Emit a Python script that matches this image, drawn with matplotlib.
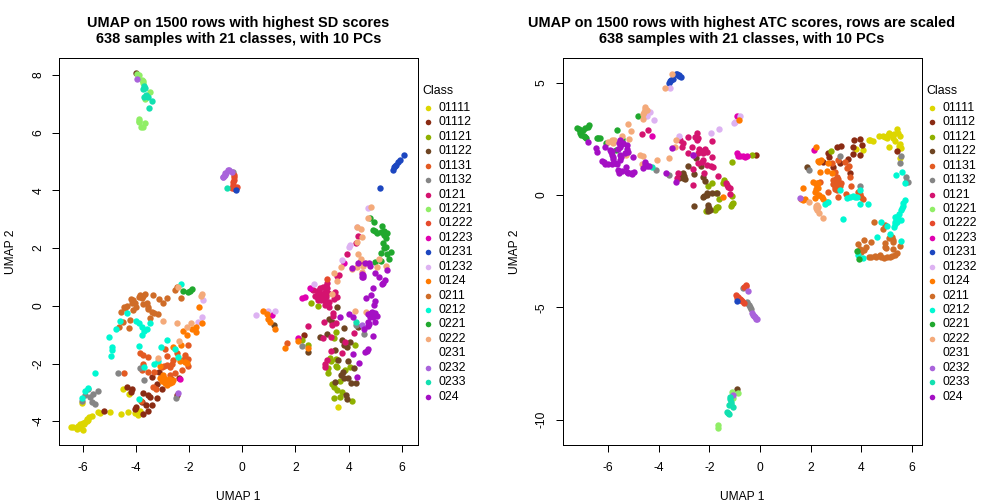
import matplotlib
matplotlib.use("Agg")
import matplotlib.pyplot as plt
from matplotlib.lines import Line2D

plt.rcParams['font.family'] = ['Liberation Sans', 'DejaVu Sans']
plt.rcParams['axes.unicode_minus'] = False

class_labels = ["01111","01112","01121","01122","01131","01132","0121","01221","01222","01223",
                "01231","01232","0124","0211","0212","0221","0222","0231","0232","0233","024"]
class_colors = ["#DDD600","#8A2B13","#8FB000","#6E4522","#E35A22","#858585","#D4136F","#90EE66","#E64A2C","#E000B0",
                "#1C46C0","#DDB2F2","#FF7A00","#CF6C28","#00F8D2","#20A82E","#F4AA7A","#FFFFFF","#A963DB","#12E0B0","#A40FC4"]

sd_01111 = [(-6.35,-4.19),(-6.23,-4.28),(-6.10,-4.19),(-5.98,-4.31),(-6.04,-4.10),(-5.91,-4.02),(-5.79,-3.96),(-5.66,-3.81),
            (-5.41,-3.67),(-5.35,-3.73),(-4.97,-3.67),(-4.54,-3.75),(-4.29,-3.69),(-4.04,-3.73),(-3.91,-3.79),(-3.85,-3.64),
            (-4.47,-2.90),(-6.04,-3.38),(-4.25,-3.06),(-6.42,-4.21),(-6.17,-4.17),(-6.0,-4.05),(-5.85,-3.92),(3.6,-3.51),
            (-6.2,-4.22),(-6.05,-4.25),(-6.1,-4.1),(-5.95,-4.1),(-5.85,-3.98),(-5.75,-3.85)]
sd_01112 = [(-4.35,-2.80),(-4.16,-2.90),(-4.20,-2.98),(-3.72,-3.01),(-3.53,-3.09),(-3.45,-3.15),(-3.22,-3.20),(-4.0,-3.52),
            (-4.04,-3.59),(-3.60,-3.44),(-3.41,-3.44),(-3.53,-3.63),(-3.72,-3.75),(-3.78,-3.32),(-3.22,-2.71),(-3.12,-2.28),
            (-3.41,-2.48),(-3.03,-2.48),(-2.66,-2.55),(-3.0,-2.90),(-5.19,-3.66),(-2.47,-3.09),(-2.38,-2.51),(2.33,-1.0)]
sd_01121 = [(2.59,0.09),(2.84,0.0),(3.53,-0.92),(3.46,-1.13),(2.23,-1.20),(2.48,-1.35),(4.25,-1.37),(3.30,-1.82),(3.32,-1.90),
            (3.53,-1.83),(3.52,-2.08),(3.57,-2.13),(3.23,-2.17),(3.23,-2.34),(4.06,-2.13),(3.67,-2.62),(3.36,-2.72),(3.46,-2.80),
            (3.55,-2.93),(3.76,-3.0),(3.46,-3.21),(3.67,-3.15),(4.11,-3.30),(3.85,-2.22)]
sd_01122 = [(3.57,-0.05),(3.27,-0.46),(3.36,-0.55),(3.83,-0.78),(3.20,-0.99),(2.93,-1.08),(3.76,-1.19),(4.05,-1.24),(3.83,-1.36),
            (3.93,-1.44),(3.48,-1.54),(2.48,-1.61),(3.61,-1.88),(3.96,-1.93),(4.21,-2.14),(3.80,-2.31),(3.73,-2.40),(3.82,-2.51),
            (3.48,-2.63),(3.98,-2.51),(4.09,-2.66),(4.26,-2.69),(3.90,-3.09),(3.95,-3.24),(4.36,-0.75),(1.19,-0.67),(-4.0,8.06)]
sd_01131 = [(-4.44,-2.34),(-3.85,-1.65),(-3.72,-1.71),(-3.53,-1.79),(-3.75,-2.03),(-3.78,-2.22),(-3.53,-2.28),(-3.31,-2.28),
            (-3.03,-2.11),(-2.84,-2.05),(-2.72,-2.11),(-2.89,-1.50),(-2.84,-1.74),(-2.59,-1.88),(-2.47,-1.65),(-2.03,-1.37),
            (-2.16,-1.71),(-2.03,-1.86),(-2.22,-1.88),(-2.03,-2.09),(-2.28,-2.23),(-2.53,-2.32),(-2.72,-2.40),(-3.35,-2.80),
            (-3.25,-2.90),(-3.82,-3.29),(-2.84,-2.63),(1.69,-1.30),(-2.95,-2.1),(-2.65,-2.0),(-2.15,-1.8)]
sd_01132 = [(-4.67,-2.34),(-3.85,-2.14),(-3.68,-2.56),(-5.79,-2.90),(-5.91,-3.09),(-5.60,-3.06),(-5.41,-2.97),(-5.73,-3.17),
            (-5.66,-3.32),(-5.54,-3.41),(-6.04,-3.30),(-2.49,-3.18),(4.59,-0.97),(4.29,-0.67),(2.26,-1.39),(-0.36,4.65)]
sd_0121 = [(3.20,0.78),(3.20,0.61),(2.61,0.57),(2.92,0.61),(3.05,0.66),(2.73,0.34),(2.92,0.43),(3.11,0.49),(3.23,0.43),(2.86,0.20),
           (3.05,0.26),(3.27,0.14),(3.11,0.03),(3.27,-0.05),(3.48,0.49),(3.55,0.29),(3.40,-0.24),(3.40,-0.37),(3.52,-0.61),(3.36,-0.67),
           (3.08,-0.57),(2.48,-0.70),(3.32,-1.09),(3.02,-1.13),(4.21,-0.95),(3.86,-1.24),(3.32,-1.57),(3.76,-1.64),(3.17,-1.88),
           (3.12,-2.0),(3.12,-2.11),(3.55,1.03),(3.65,1.08),(3.95,1.78),(4.26,2.17),(4.34,2.42),(4.42,1.53),
           (2.65,0.55),(2.8,0.5),(3.0,0.35),(2.95,0.2),(3.15,0.3),(3.1,0.15),(2.8,0.3),(3.5,0.35),(3.45,0.25),(3.15,0.7)]
sd_01221 = [(-3.97,8.04),(-3.78,7.83),(-3.72,7.73),(-3.45,7.40),(-3.65,7.18),(-3.87,6.46),(-3.90,6.38),(-3.81,6.21),(-3.66,6.33),
            (-3.9,6.42),(-3.75,6.2),(-3.9,8.0),(-3.75,7.8)]
sd_01222 = [(-0.30,4.53),(-0.30,4.36),(-0.34,4.19),(-0.21,4.13),(-0.40,4.07),(-0.28,4.04),(3.2,0.92),(-0.32,4.45),(-0.33,4.28),(-0.32,4.1),(-0.25,4.08)]
sd_01223 = [(1.13,-0.33),(2.23,0.26),(2.36,0.32),(3.83,1.47),(2.11,-1.13),(-2.34,-2.55),(2.54,0.60)]
sd_01231 = [(5.17,4.08),(5.66,4.71),(5.77,4.88),(5.92,5.05),(6.07,5.22),(5.72,4.80),(-0.25,4.0),(5.75,4.85),(5.85,5.0)]
sd_01232 = [(0.50,-0.31),(0.98,-0.18),(1.23,-0.17),(2.69,0.77),(3.75,1.60),(4.07,2.11),(4.02,2.03),(4.30,2.72),(4.74,3.38),
            (-1.47,0.20),(-1.50,-0.40),(-1.68,-0.57)]
sd_0124 = [(0.79,-0.19),(0.95,-0.30),(0.98,-0.47),(1.04,-0.57),(1.22,-0.82),(1.60,-1.47),(2.48,-1.47),(2.11,-1.21),(-1.62,-0.05),
           (-1.50,-0.58),(-1.72,-0.72),(-1.87,-0.82),(-2.22,-0.87),(-2.07,-1.01),(-1.72,-0.90),(-2.29,-1.36),(-2.59,-1.44),(-3.10,-2.09),
           (-2.97,-2.40),(-2.91,-2.69),(-2.72,-2.69),(-2.59,-2.57),(-3.10,-2.51),(-2.84,-2.75),(-2.16,-1.94),(-2.34,-1.90),(-2.06,-1.99),
           (-2.85,-2.6),(-2.95,-2.5),(-2.75,-2.55),(-2.65,-2.65),(-3.0,-2.6)]
sd_0211 = [(-4.54,-0.20),(-4.41,-0.09),(-4.32,-0.01),(-4.10,0.20),(-4.04,0.09),(-3.85,0.37),(-3.65,0.41),(-3.78,0.26),(-3.72,0.05),
           (-4.0,-0.05),(-4.10,-0.15),(-3.59,0.09),(-3.53,-0.12),(-3.41,-0.20),(-3.16,-0.30),(-3.47,-0.41),(-3.37,0.37),(-3.12,0.22),
           (-2.97,0.09),(-2.84,0.26),(-2.53,0.55),(-2.47,0.64),(-2.32,0.26),(-4.62,-0.72),(-4.47,-0.55),(-4.22,-0.49),(-4.25,-0.78),
           (-4.45,-0.05),(-4.15,0.1),(-3.9,0.3),(-3.75,0.35),(-3.55,-0.05),(-3.3,-0.25),(-4.2,0.25)]
sd_0212 = [(-5.54,-2.34),(-5.79,-2.86),(-5.91,-2.94),(-6.04,-3.21),(-4.95,-1.74),(-4.91,-1.53),(-4.90,-1.44),(-5.01,-1.09),(-4.75,-0.81),
           (-4.60,-0.52),(-4.32,-0.26),(-3.99,-0.52),(-3.87,-0.58),(-3.78,-0.72),(-3.57,-0.81),(-3.70,-0.89),(-3.78,-1.01),(-3.46,-0.58),
           (-3.87,-1.39),(-2.84,-1.19),(-3.07,-1.44),(-2.53,-1.49),(-2.41,-1.79),(-3.16,-1.93),(-3.32,-2.02),(-3.68,-2.11),(-3.87,-3.24),(-2.32,0.74)]
sd_0221 = [(-2.22,0.51),(-2.03,0.47),(-1.87,0.58),(-1.97,0.52),(4.80,3.05),(4.95,2.92),(5.25,2.77),(4.92,2.63),(5.08,2.54),(5.28,2.57),
           (5.43,2.51),(5.39,2.34),(5.30,2.17),(5.39,2.05),(5.20,1.82),(5.43,1.78),(5.58,1.85),(5.53,1.61),(4.99,1.53),(5.20,1.54),
           (5.0,2.6),(5.2,2.55),(5.35,2.45),(5.35,2.6),(5.35,2.0)]
sd_0222 = [(4.84,3.41),(4.72,3.03),(4.32,2.72),(4.45,2.65),(4.52,2.37),(4.32,2.22),(4.34,1.78),(4.45,1.61),(4.65,1.49),(4.55,1.38),
           (4.32,1.33),(4.11,1.26),(3.73,1.36),(3.46,1.15),(3.57,0.87),(5.07,1.36),(5.40,1.38),(4.24,-0.18),(4.65,-0.23),(3.38,0.41),
           (4.49,1.18),(5.15,1.61),(-1.50,0.41),(-1.55,0.34),(-2.97,-0.53),(-2.44,-0.61),(-2.09,-0.72),(-1.93,-0.61),(-2.37,-1.21),
           (-3.16,-1.82),(-2.41,0.66)]
sd_0232 = [(-0.71,4.48),(-0.65,4.59),(-0.53,4.71),(-0.40,4.65),(-0.74,4.45),(-0.63,4.53),(-3.95,7.86),(-2.41,-3.03),(4.50,-0.68),
           (-0.7,4.5),(-0.6,4.6),(-0.48,4.7)]
sd_0233 = [(-3.68,7.63),(-3.72,7.50),(-3.60,7.27),(-3.70,7.25),(-3.53,7.23),(-3.41,7.11),(-3.51,6.86),(-0.59,4.08),(4.26,-0.55),
           (-3.65,7.55),(-3.62,7.3)]
sd_024 = [(4.36,1.49),(4.61,1.47),(4.77,1.49),(4.82,1.38),(4.11,1.31),(4.55,1.07),(4.52,0.99),(4.99,1.15),(5.13,0.99),(5.36,0.89),
          (5.24,0.74),(5.43,1.24),(4.90,0.61),(4.86,0.36),(4.66,0.26),(5.0,0.17),(4.96,0.03),(3.67,-0.40),(4.02,-0.30),(4.17,-0.40),
          (4.74,-0.30),(4.89,-0.20),(5.05,-0.34),(4.93,-0.40),(4.74,-0.55),(4.74,-0.70),(5.0,-0.57),(4.92,-1.03),(4.57,-0.82),
          (4.74,-1.50),(4.61,-1.61),(4.17,-1.68),(4.40,-1.99),(4.30,-2.48),
          (4.55,1.0),(4.5,1.1),(4.85,-0.25),(4.95,-0.3),(5.0,-0.25),(4.8,-0.4),(4.75,-0.62),(4.7,-1.55),(5.3,0.8)]

atc_01111 = [(4.30,2.45),(4.47,2.42),(4.71,2.63),(4.87,2.64),(5.0,2.52),(5.11,2.77),(5.26,2.52),(5.33,2.42),(5.42,2.92),(5.55,2.64),
             (5.53,2.27),(5.57,2.08),(5.11,2.12),(3.79,2.03),(4.05,2.0),(5.53,1.63),
             (5.05,2.65),(5.2,2.68),(5.3,2.72),(5.45,2.75),(4.95,2.6),(5.5,2.2),(5.55,2.15),(4.35,2.45)]
atc_01112 = [(3.71,2.45),(3.95,2.48),(4.04,2.21),(3.68,2.15),(3.95,1.78),(3.68,1.81),(3.22,2.18),(3.03,2.12),(2.70,1.85),(2.74,1.68),
             (3.16,1.41),(3.49,1.59),(2.50,1.48),(2.89,1.23),(3.55,0.99),(5.42,1.97),(-0.17,1.77)]
atc_01121 = [(-1.12,1.48),(-0.33,1.77),(-1.88,0.52),(-2.04,0.40),(-1.41,0.67),(-1.45,0.55),(-1.75,0.07),(-1.61,-0.19),(-1.12,-0.03),
             (-1.05,-0.37),(-1.16,-0.47),(-1.64,-0.52),(-1.78,-0.67),(-2.14,-0.70),(2.82,1.94),(-1.1,-0.4),(-1.75,-0.6),(-1.7,-0.55)]
atc_01122 = [(-2.53,1.63),(-2.83,1.29),(-2.34,1.29),(-2.59,0.93),(-3.05,0.96),(-3.18,0.74),(-2.96,0.70),(-2.26,0.82),(-2.16,0.62),
             (-2.11,0.07),(-2.24,-0.10),(-1.71,0.07),(-1.91,0.07),(-2.62,-0.47),(-2.06,-0.45),(-1.97,-0.67),(-2.04,-0.56),(1.87,1.23),(-0.92,-8.65),
             (-3.15,0.85),(-3.05,0.75),(-2.1,0.0),(-2.2,-0.05),(-2.0,-0.6),(-2.05,-0.7),(-3.0,0.85)]
atc_01131 = [(2.89,0.67),(2.96,0.37),(3.09,0.59),(3.03,0.82),(2.96,1.04),(3.22,0.52),(3.03,0.22),(3.36,1.48),(3.42,1.19),(3.55,0.82),
             (3.58,0.40),(2.70,0.15),(3.09,-0.07),(3.39,0.04),(3.88,0.15),(4.05,-0.19),(2.37,0.59),(3.09,1.56),(2.83,1.44),(4.93,-1.34),
             (2.9,0.5),(3.0,0.45),(3.05,0.35),(2.95,0.25),(3.15,0.4),(3.0,0.7),(3.1,0.7),(3.5,1.3),(3.95,0.05),(4.0,-0.1)]
atc_01132 = [(1.95,1.11),(3.18,1.74),(3.95,0.40),(5.57,1.74),(5.55,1.41),(5.76,0.79),(5.76,0.59),(5.86,0.58),(-4.11,1.13),(-3.61,0.89),
             (-0.53,-4.82),(-0.39,-5.0),(-0.66,-4.15),(-0.36,-5.09),(-0.5,-4.78),(-0.45,-4.9)]
atc_0121 = [(-4.67,2.70),(-4.41,2.89),(-3.16,2.45),(-2.83,2.57),(-3.03,2.30),(-3.09,2.12),(-2.70,2.12),(-2.50,2.74),(-2.47,2.45),(-1.91,2.42),
            (-2.18,2.03),(-2.43,1.88),(-2.24,1.85),(-2.83,1.85),(-1.91,1.71),(-2.24,1.56),(-2.43,1.41),(-1.84,1.26),(-2.11,1.34),(-2.21,0.96),
            (-2.63,1.14),(-3.25,0.99),(-3.29,0.74),(-1.64,0.86),(-1.36,0.52),(-1.25,0.37),(-2.63,0.45),(-1.18,0.03),
            (-2.55,2.6),(-2.45,2.55),(-2.4,2.05),(-2.3,1.95),(-2.1,1.9),(-2.3,1.45),(-1.95,1.3),(-1.3,0.45),(-1.2,0.3)]
atc_01221 = [(-1.09,-8.76),(-0.88,-8.83),(-1.05,-9.05),(-1.64,-10.39),(-1.64,-10.24)]
atc_01222 = [(-0.57,-4.05),(-0.92,-4.57),(-0.79,-4.63),(-0.70,-4.70),(-0.62,-4.79),(-0.85,-4.55),(-0.75,-4.68),(-0.55,-4.0),(-0.62,-4.1),(-0.95,-4.45)]
atc_01223 = [(-4.25,2.63),(-0.91,3.53),(-0.86,1.74),(-0.68,1.74),(-0.53,1.74),(-0.92,1.85),(2.14,1.99),(-0.8,1.72),(-0.6,1.7)]
atc_01231 = [(-3.55,5.06),(-3.42,5.18),(-3.26,5.39),(-3.13,5.27),(-0.92,-4.70),(-3.5,5.12),(-3.6,5.0),(-3.3,5.4),(-3.2,5.3),(-3.18,5.35)]
atc_01232 = [(-3.54,4.75),(-4.34,3.71),(-4.45,3.52),(-4.20,3.34),(-1.61,2.92),(-1.93,2.74),(-3.18,2.64),(-0.99,3.26),(-1.03,3.19),(-0.79,3.52)]
atc_0124 = [(2.21,2.12),(2.43,1.56),(2.70,1.41),(2.66,1.08),(2.83,0.96),(2.37,1.01),(2.11,0.58),(2.30,0.52),(2.30,0.30),(2.17,0.15),(1.71,0.30),
            (2.34,0.0),(2.50,-0.19),(2.63,-0.30),(1.64,-0.19),(1.78,-0.18),(2.17,-0.15),(-1.45,-0.07),(-0.82,3.32),
            (2.35,1.45),(2.3,1.5),(2.25,0.55),(2.2,0.25),(2.28,0.0),(2.45,-0.1),(1.7,-0.2),(2.2,0.5)]
atc_0211 = [(4.49,-1.22),(4.87,-1.51),(5.20,-1.85),(5.24,-2.08),(5.53,-2.27),(5.43,-2.60),(5.26,-2.42),(4.93,-2.15),(4.97,-2.37),(4.38,-2.08),
            (4.12,-2.0),(3.88,-2.18),(4.18,-2.33),(4.01,-2.52),(4.30,-2.77),(4.54,-2.72),(4.74,-2.67),(4.89,-2.82),(5.13,-2.77),(5.33,-2.67),
            (4.4,-2.75),(4.6,-2.75),(4.8,-2.75),(5.0,-2.78),(5.2,-2.7),(5.25,-2.0),(5.1,-1.9),(4.95,-2.3),(3.95,-2.4),(4.1,-2.45)]
atc_0212 = [(3.18,0.22),(3.55,-0.10),(3.68,-0.04),(3.84,-0.10),(3.97,-0.40),(4.28,-0.42),(3.29,-1.05),(2.70,-0.30),(2.57,-0.42),(5.39,0.89),
            (5.62,1.04),(5.72,0.52),(5.72,-0.22),(5.66,-0.49),(5.59,-0.67),(5.39,-0.96),(5.46,-1.11),(5.33,-1.19),(5.30,-1.44),(5.59,-1.11),
            (4.80,-1.22),(5.0,-1.38),(4.63,-1.85),(5.13,-1.74),(5.57,-2.06),(3.95,0.22),(3.86,-2.67),(4.05,-2.82),
            (5.65,-0.35),(5.6,-0.6),(5.5,-0.85),(5.42,-1.2),(5.35,-1.3),(5.45,-1.05),(5.35,-1.0),(3.75,-0.08),(3.45,-0.15)]
atc_0221 = [(-7.24,2.97),(-7.11,2.86),(-6.91,2.97),(-6.74,3.12),(-6.97,2.63),(-7.11,2.74),(-6.87,2.52),(-6.38,2.55),(-5.66,2.89),(-4.80,3.52),
            (-5.46,2.49),(-5.68,2.0),(-6.08,2.30),(3.84,-2.48),(3.91,-2.86),
            (-7.15,2.95),(-7.05,2.8),(-7.0,2.9),(-7.05,2.65),(-6.9,2.6),(-6.8,3.05),(-6.45,2.55),(-6.3,2.55)]
atc_0222 = [(-3.75,4.75),(-3.46,5.39),(-4.53,3.83),(-4.61,3.61),(-4.61,3.37),(-5.21,3.15),(-5.08,2.86),(-5.46,2.63),(-5.86,2.45),(-5.99,2.37),
            (-5.79,2.33),(-5.16,2.48),(-5.29,1.78),(-4.74,1.80),(-4.63,1.74),(-4.05,1.56),(-3.61,1.63),(-3.30,2.43),(-3.36,2.12),(-4.66,1.38),
            (-4.47,3.78),(1.95,-0.31),(2.20,-0.59),(2.30,-0.55),(2.33,-0.82),(2.47,-1.04),
            (2.2,-0.5),(2.25,-0.65),(2.25,-0.45),(-5.85,2.4),(-5.75,2.45),(-4.6,3.7),(-4.55,3.9)]
atc_0232 = [(-0.46,-4.29),(-0.29,-5.34),(-0.16,-5.53),(1.58,-0.15),(-2.66,1.78),(-1.08,-8.89),(-0.25,-5.4),(-0.3,-5.25),(-0.2,-5.45),(-0.12,-5.5)]
atc_0233 = [(-1.18,-8.98),(-1.16,-9.20),(-1.21,-9.35),(-1.08,-9.45),(-1.29,-9.64),(-1.22,-9.75),(-4.28,1.23),(-1.25,-9.7),(-1.15,-9.3),(-1.18,-9.1)]
atc_024 = [(-6.78,2.34),(-6.47,2.08),(-6.45,1.90),(-6.12,2.12),(-5.92,2.0),(-5.86,1.78),(-5.79,1.60),(-5.53,2.45),(-5.53,2.15),(-5.26,2.23),
           (-5.20,1.93),(-5.03,1.68),(-5.53,1.78),(-5.53,1.56),(-5.72,1.41),(-5.99,1.37),(-6.25,1.51),(-6.12,1.38),(-5.59,1.11),(-5.55,0.99),
           (-5.30,1.26),(-5.26,1.04),(-5.11,0.96),(-4.97,1.04),(-4.54,1.48),(-4.50,1.34),(-4.61,1.19),(-4.37,1.29),(-3.46,2.08),(-3.72,0.96),
           (-3.32,0.59),(-2.66,1.78),
           (-5.9,1.9),(-5.85,1.95),(-5.8,1.7),(-5.65,1.4),(-5.85,1.37),(-5.5,1.7),(-5.45,2.25),(-5.4,2.3),(-5.25,2.05),(-5.35,1.85),(-5.62,2.05),
           (-5.55,2.3),(-6.18,1.45),(-5.45,1.07),(-5.2,1.0),(-5.05,0.95),(-4.55,1.4),(-4.45,1.3)]

sd_series = [sd_01111, sd_01112, sd_01121, sd_01122, sd_01131, sd_01132, sd_0121, sd_01221, sd_01222, sd_01223,
             sd_01231, sd_01232, sd_0124, sd_0211, sd_0212, sd_0221, sd_0222, [], sd_0232, sd_0233, sd_024]
atc_series = [atc_01111, atc_01112, atc_01121, atc_01122, atc_01131, atc_01132, atc_0121, atc_01221, atc_01222, atc_01223,
              atc_01231, atc_01232, atc_0124, atc_0211, atc_0212, atc_0221, atc_0222, [], atc_0232, atc_0233, atc_024]

sd_title = "UMAP on 1500 rows with highest SD scores\n638 samples with 21 classes, with 10 PCs"
atc_title = "UMAP on 1500 rows with highest ATC scores, rows are scaled\n638 samples with 21 classes, with 10 PCs"
sd_xticks = [-6, -4, -2, 0, 2, 4, 6]
sd_yticks = [-4, -2, 0, 2, 4, 6, 8]
atc_xticks = [-6, -4, -2, 0, 2, 4, 6]
atc_yticks = [-10, -5, 0, 5]

W, H = 1008, 504
fig = plt.figure(figsize=(W / 100, H / 100), dpi=100, facecolor='white')
FS = 8.64
LEG_FS = 8.9


def panel(left, right, xlim, ylim, series, title, xticks, yticks, legend_x):
    ax = fig.add_axes([left / W, 1 - 445 / H, (right - left) / W, (445 - 58) / H])
    for pts, col in zip(series, class_colors):
        if pts:
            ax.scatter([p[0] for p in pts], [p[1] for p in pts], s=21, color=col, linewidths=0,
                       antialiaseds=False, zorder=3)
    ax.set_xlim(*xlim)
    ax.set_ylim(*ylim)
    ax.set_xticks(xticks)
    ax.set_yticks(yticks)
    ax.tick_params(axis='x', length=5, width=0.72, labelsize=FS, pad=7)
    ax.tick_params(axis='y', length=5, width=0.72, labelsize=FS, pad=5.5, labelrotation=90)
    for lab in ax.get_yticklabels():
        lab.set_va('center')
    for s in ax.spines.values():
        s.set_linewidth(0.72)
    ax.set_title(title, fontsize=10.42, fontweight='bold', pad=11, linespacing=1.15)
    ax.set_xlabel("UMAP 1", fontsize=FS, va='center')
    ax.set_ylabel("UMAP 2", fontsize=FS, va='center')
    ax.xaxis.set_label_coords(0.5, -52 / 387)
    ax.yaxis.set_label_coords(-48 / (right - left), 0.5)
    # legend
    fig.text((legend_x - 0.5) / W, 1 - 90.5 / H, "Class", fontsize=LEG_FS, va='center', ha='left')
    for i, (lab, col) in enumerate(zip(class_labels, class_colors)):
        yy = 1 - (108 + i * 14.43) / H
        fig.add_artist(Line2D([(legend_x + 5) / W], [yy], transform=fig.transFigure, marker='o', ms=4.0,
                              mfc=col, mec='none', ls='none'))
        fig.text((legend_x + 15.5) / W, yy, lab, fontsize=LEG_FS, va='center', ha='left')
    return ax


panel(59, 418, (-6.89, 6.61), (-4.825, 8.59), sd_series, sd_title, sd_xticks, sd_yticks, 423)
panel(562.5, 921.5, (-7.80, 6.38), (-11.13, 6.10), atc_series, atc_title, atc_xticks, atc_yticks, 927)

fig.savefig("out.png", dpi=100)
